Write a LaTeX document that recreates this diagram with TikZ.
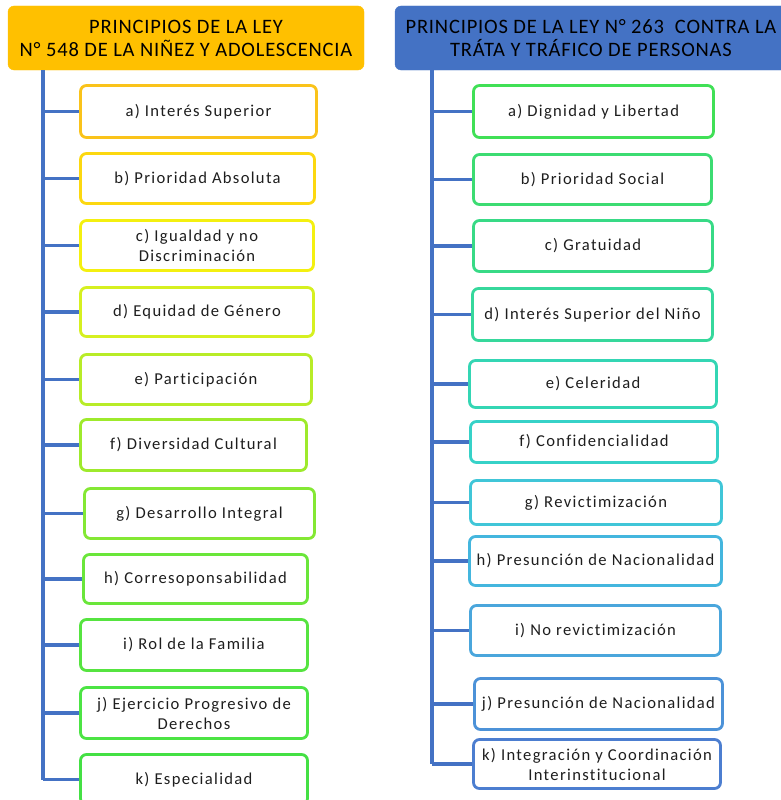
\documentclass[tikz,border=0pt]{standalone}
\usepackage{fontspec}
\setmainfont{Carlito}[Ligatures=NoCommon]
\definecolor{trunk}{HTML}{4472C4}
\definecolor{hdrL}{HTML}{FFC000}
\definecolor{hdrR}{HTML}{4472C4}
\definecolor{txt}{HTML}{1E1E1E}
\definecolor{La}{HTML}{FAC31A}
\definecolor{Lb}{HTML}{FCD810}
\definecolor{Lc}{HTML}{F4F010}
\definecolor{Ld}{HTML}{D6F020}
\definecolor{Le}{HTML}{B8EC28}
\definecolor{Lf}{HTML}{9EEA2C}
\definecolor{Lg}{HTML}{84E834}
\definecolor{Lh}{HTML}{6AE63A}
\definecolor{Li}{HTML}{56E440}
\definecolor{Lj}{HTML}{4CE444}
\definecolor{Lk}{HTML}{44E044}
\definecolor{Ra}{HTML}{40E056}
\definecolor{Rb}{HTML}{3CDC72}
\definecolor{Rc}{HTML}{38DA86}
\definecolor{Rd}{HTML}{36D89C}
\definecolor{Re}{HTML}{34D6B4}
\definecolor{Rf}{HTML}{36D2C8}
\definecolor{Rg}{HTML}{40C6D8}
\definecolor{Rh}{HTML}{44B6DE}
\definecolor{Ri}{HTML}{4AA6DC}
\definecolor{Rj}{HTML}{4C92D8}
\definecolor{Rk}{HTML}{4C7ED0}
\begin{document}
\begin{tikzpicture}[x=1pt,y=-1pt,
  box/.style={draw=#1, line width=2.8pt, rounded corners=6pt, fill=white,
    align=center, text=txt, inner sep=0pt,
    font=\fontsize{16.6}{20}\selectfont\addfontfeatures{LetterSpace=8}},
  hdr/.style={fill=#1, draw=#1, rounded corners=6pt, align=center, text=black,
    inner sep=0pt, font=\fontsize{20.5}{23}\selectfont\addfontfeatures{LetterSpace=4}},
  conn/.style={draw=trunk, line width=3.4pt}]
\useasboundingbox (0,0) rectangle (780,800);
% headers
\node[hdr=hdrL, minimum width=356pt, minimum height=64pt] (hl) at (186,38)
  {PRINCIPIOS DE LA LEY\\N° 548 DE LA NIÑEZ Y ADOLESCENCIA};
\node[hdr=hdrR, minimum width=392pt, minimum height=64pt] (hr) at (591,38)
  {PRINCIPIOS DE LA LEY N° 263 \ CONTRA LA\\TRÁTA Y TRÁFICO DE PERSONAS};
% left boxes
\node[box=La, minimum width=236pt, minimum height=52pt] (la) at (198.5,111.5) {a) Interés Superior};
\node[box=Lb, minimum width=234pt, minimum height=50pt] (lb) at (197.5,178.5) {b) Prioridad Absoluta};
\node[box=Lc, minimum width=233pt, minimum height=50pt] (lc) at (197,245.5) {c) Igualdad y no\\Discriminación};
\node[box=Ld, minimum width=233pt, minimum height=49pt] (ld) at (197,312) {d) Equidad de Género};
\node[box=Le, minimum width=231pt, minimum height=50pt] (le) at (196,379.5) {e) Participación};
\node[box=Lf, minimum width=226pt, minimum height=51pt] (lf) at (193.5,445) {f) Diversidad Cultural};
\node[box=Lg, minimum width=230pt, minimum height=50pt] (lg) at (199.5,513.5) {g) Desarrollo Integral};
\node[box=Lh, minimum width=224pt, minimum height=49pt] (lh) at (195.5,579) {h) Corresoponsabilidad};
\node[box=Li, minimum width=227pt, minimum height=51pt] (li) at (194,645) {i) Rol de la Familia};
\node[box=Lj, minimum width=227pt, minimum height=51pt] (lj) at (194,713) {j) Ejercicio Progresivo de\\Derechos};
\node[box=Lk, minimum width=227pt, minimum height=50pt] (lk) at (194,779.5) {k) Especialidad};
% right boxes
\node[box=Ra, minimum width=240pt, minimum height=52pt] (ra) at (593.5,111.5) {a) Dignidad y Libertad};
\node[box=Rb, minimum width=238pt, minimum height=50pt] (rb) at (592.5,179.5) {b) Prioridad Social};
\node[box=Rc, minimum width=239pt, minimum height=51pt] (rc) at (593,246) {c) Gratuidad};
\node[box=Rd, minimum width=240pt, minimum height=52pt] (rd) at (592.5,314.5) {d) Interés Superior del Niño};
\node[box=Re, minimum width=247pt, minimum height=47pt] (re) at (593,384) {e) Celeridad};
\node[box=Rf, minimum width=247pt, minimum height=41pt] (rf) at (594,442) {f) Confidencialidad};
\node[box=Rg, minimum width=251pt, minimum height=44pt] (rg) at (596,502.5) {g) Revictimización};
\node[box=Rh, minimum width=252pt, minimum height=49pt] (rh) at (595.5,561) {h) Presunción de Nacionalidad};
\node[box=Ri, minimum width=250pt, minimum height=50pt] (ri) at (595.5,630.5) {i) No revictimización};
\node[box=Rj, minimum width=248pt, minimum height=51pt] (rj) at (598.5,704) {j) Presunción de Nacionalidad};
\node[box=Rk, minimum width=247pt, minimum height=49pt] (rk) at (597,764) {k) Integración y Coordinación\\Interinstitucional};
% trunks
\coordinate (tl) at (43,70);
\coordinate (tr) at (432,70);
\draw[conn] (tl) -- (tl |- lk.west);
\draw[conn] (tr) -- (tr |- rk.west);
\foreach \n in {la,lb,lc,ld,le,lf,lg,lh,li,lj,lk}
  \draw[conn] (tl |- \n.west) -- (\n.west);
\foreach \n in {ra,rb,rc,rd,re,rf,rg,rh,ri,rj,rk}
  \draw[conn] (tr |- \n.west) -- (\n.west);
\end{tikzpicture}
\end{document}
